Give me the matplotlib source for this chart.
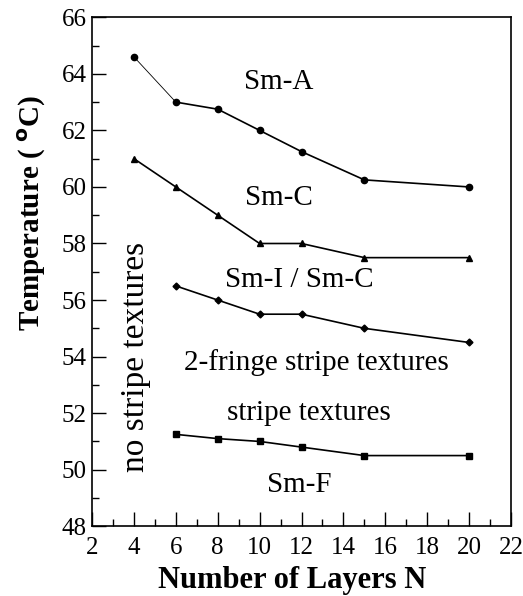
import numpy as np
import matplotlib.pyplot as plt
from matplotlib.ticker import MultipleLocator

plt.rcParams['font.family'] = ['Liberation Serif', 'DejaVu Serif']

# phase boundaries
n_a = [4, 6, 8, 10, 12, 15, 20]
t_a = [64.6, 63.0, 62.75, 62.0, 61.25, 60.25, 60.0]
n_c = [4, 6, 8, 10, 12, 15, 20]
t_c = [61.0, 60.0, 59.0, 58.0, 58.0, 57.5, 57.5]
n_i = [6, 8, 10, 12, 15, 20]
t_i = [56.5, 56.0, 55.5, 55.5, 55.0, 54.5]
n_f = [6, 8, 10, 12, 15, 20]
t_f = [51.25, 51.1, 51.0, 50.8, 50.5, 50.5]

fig = plt.figure(figsize=(5.23, 5.96), dpi=100)
ax = fig.add_axes([0.176, 0.117, 0.801, 0.854])

# first Sm-A segment drawn thinner
ax.plot(n_a[:2], t_a[:2], '-', color='black', lw=0.6)
ax.plot(n_a[1:], t_a[1:], '-', color='black', lw=1.2)
ax.plot(n_a, t_a, 'o', color='black', ms=4.5)
ax.plot(n_c, t_c, '-^', color='black', lw=1.2, ms=5)
ax.plot(n_i, t_i, '-D', color='black', lw=1.2, ms=3.5)
ax.plot(n_f, t_f, '-s', color='black', lw=1.2, ms=4)

ts = 21
ax.text(10.9, 63.7, 'Sm-A', fontsize=ts, ha='center', va='center')
ax.text(10.9, 59.6, 'Sm-C', fontsize=ts, ha='center', va='center')
ax.text(11.9, 56.7, 'Sm-I / Sm-C', fontsize=ts, ha='center', va='center')
ax.text(12.7, 53.8, '2-fringe stripe textures', fontsize=ts, ha='center', va='center')
ax.text(12.35, 52.0, 'stripe textures', fontsize=ts, ha='center', va='center')
ax.text(11.9, 49.45, 'Sm-F', fontsize=ts, ha='center', va='center')
ax.text(4.1, 54.0, 'no stripe textures', fontsize=24, ha='center', va='center', rotation=90)

ax.set_xlim(2, 22)
ax.set_ylim(48, 66)
ax.xaxis.set_major_locator(MultipleLocator(2))
ax.xaxis.set_minor_locator(MultipleLocator(1))
ax.yaxis.set_major_locator(MultipleLocator(2))
ax.yaxis.set_minor_locator(MultipleLocator(1))
ax.tick_params(which='both', direction='in', top=False, right=False, labelsize=18, width=1)
ax.tick_params(which='major', length=10)
ax.tick_params(which='minor', length=5)
ax.tick_params(axis='x', pad=8)
ax.tick_params(axis='y', pad=4)
for s in ax.spines.values():
    s.set_linewidth(1.2)

ax.set_xlabel('Number of Layers N', fontsize=22, fontweight='bold')
ax.set_ylabel('Temperature ( $^{\\mathbf{o}}$C)', fontsize=21, fontweight='bold')
ax.xaxis.set_label_coords(0.477, -0.079)
ax.yaxis.set_label_coords(-0.105, 0.615)

fig.savefig('out.png', dpi=100)
